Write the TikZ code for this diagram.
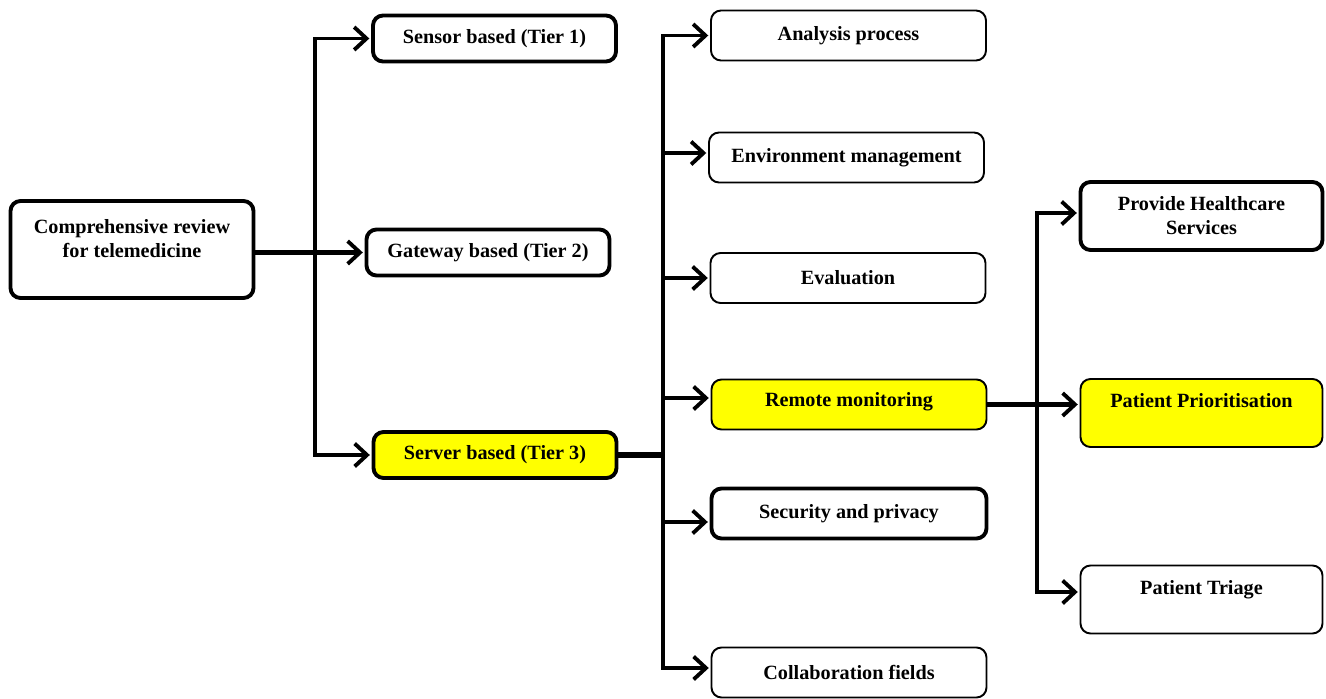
\documentclass[tikz,border=0pt]{standalone}
\usepackage{fontspec}
\setmainfont{Liberation Serif}
\usetikzlibrary{arrows.meta,positioning}
\definecolor{hiyellow}{RGB}{255,255,0}

\begin{document}
\begin{tikzpicture}[->,>={Straight Barb[length=7pt,width=13pt,line width=2.2pt]},shorten >=1pt,
                    line width=2.2pt,line join=miter,
                    box/.style={draw,rounded corners=0.2cm,inner sep=0pt,align=center,
                                font=\fontsize{11.5}{13.7}\selectfont\bfseries},
                    bold box/.style={box,line width=2.2pt},
                    thin box/.style={box,line width=1.1pt},
                    hot/.style={fill=hiyellow},
                    tier/.style={minimum width=4.86cm,minimum height=0.92cm},
                    topic/.style={minimum width=5.5cm,minimum height=1.0cm},
                    use/.style={minimum width=4.84cm,minimum height=1.36cm},
                    lift/.style={text depth=#1},
                    fat/.style={line width=3.2pt}]

        \useasboundingbox (0,0) rectangle (26.52,-13.98);

        % Define vertices
        \node[bold box,minimum width=4.86cm,minimum height=1.94cm,lift=0.45cm] (root) at (2.64,-4.99)
            {Comprehensive review\\for telemedicine};

        \node[bold box,tier] (s1) at (9.89,-0.77) {Sensor based (Tier 1)};
        \node[bold box,tier] (s2) at (9.76,-5.05) {Gateway based (Tier 2)};
        \node[bold box,tier,hot] (s3) at (9.90,-9.10) {Server based (Tier 3)};

        \node[thin box,topic] (a1) at (16.97,-0.71) {Analysis process};
        \node[thin box,topic] (a2) at (16.93,-3.15) {Environment management};
        \node[thin box,topic] (a3) at (16.96,-5.56) {Evaluation};
        \node[thin box,topic,hot,lift=0.2cm] (a4) at (16.98,-8.09) {Remote monitoring};
        \node[bold box,topic] (a5) at (16.98,-10.27) {Security and privacy};
        \node[thin box,topic] (a6) at (16.98,-13.45) {Collaboration fields};

        \node[bold box,use] (b1) at (24.03,-4.32) {Provide Healthcare\\Services};
        \node[thin box,use,hot,lift=0.52cm] (b2) at (24.03,-8.26) {Patient Prioritisation};
        \node[thin box,use,lift=0.48cm] (b3) at (24.03,-11.99) {Patient Triage};

        % Junctions
        \coordinate (t1) at (6.30,-5.05);
        \coordinate (t2) at (13.26,-9.10);
        \coordinate (t3) at (20.74,-8.09);

        % Draw edges
        \draw[fat] (root.east |- s2) -- (s2);
        \draw (t1) |- (s1);
        \draw (t1) |- (s3);

        \draw[fat,-] (s3) -- (t2);
        \draw (t2) |- (a1);
        \draw (t2) |- ([yshift=0.09cm]a2.west);
        \draw (t2) |- (a3);
        \draw (t2) |- ([yshift=0.13cm]a4.west);
        \draw (t2) |- ([yshift=-0.17cm]a5.west);
        \draw (t2) |- ([yshift=0.09cm]a6.west);

        \draw[fat] (a4.east) -- (a4.east -| b2.west);
        \draw (t3) |- ([yshift=0.06cm]b1.west);
        \draw (t3) |- ([yshift=0.15cm]b3.west);

\end{tikzpicture}
\end{document}
